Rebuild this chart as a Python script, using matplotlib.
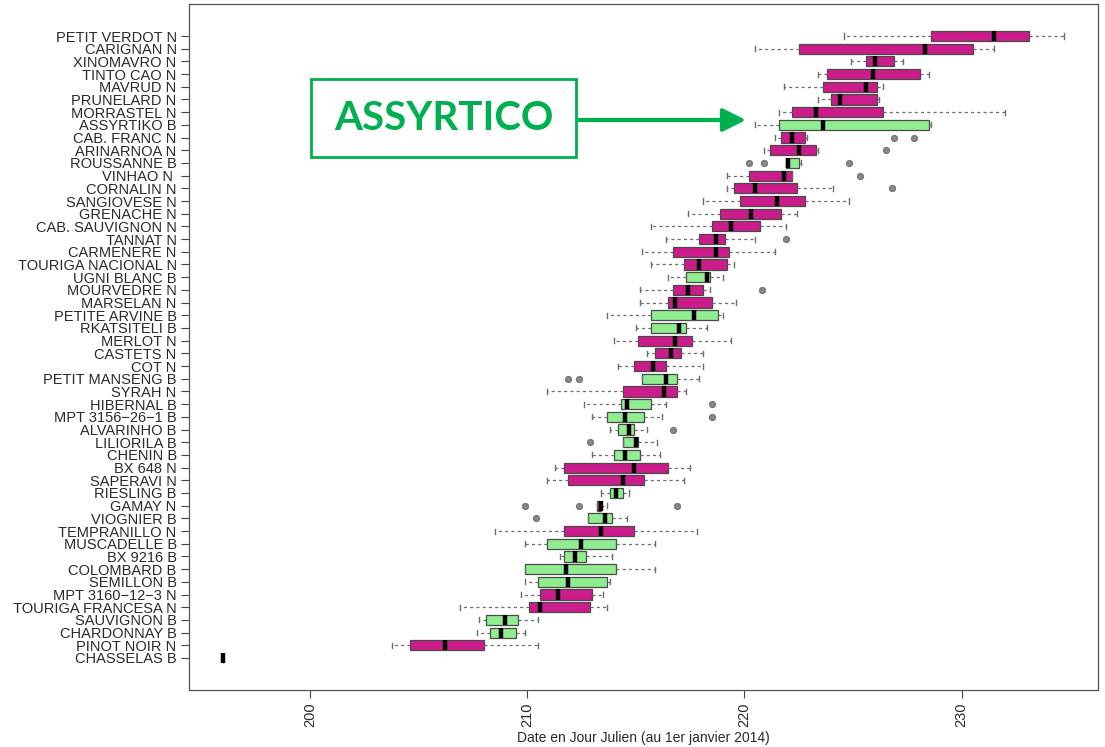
import matplotlib
matplotlib.use("Agg")
import matplotlib.pyplot as plt
from matplotlib.patches import Rectangle

varieties = [
    "PETIT VERDOT N", "CARIGNAN N", "XINOMAVRO N", "TINTO CAO N", "MAVRUD N",
    "PRUNELARD N", "MORRASTEL N", "ASSYRTIKO B", "CAB. FRANC N", "ARINARNOA N",
    "ROUSSANNE B", "VINHAO N ", "CORNALIN N", "SANGIOVESE N", "GRENACHE N",
    "CAB. SAUVIGNON N", "TANNAT N", "CARMENERE N", "TOURIGA NACIONAL N", "UGNI BLANC B",
    "MOURVEDRE N", "MARSELAN N", "PETITE ARVINE B", "RKATSITELI B", "MERLOT N",
    "CASTETS N", "COT N", "PETIT MANSENG B", "SYRAH N", "HIBERNAL B",
    "MPT 3156\u221226\u22121 B", "ALVARINHO B", "LILIORILA B", "CHENIN B", "BX 648 N",
    "SAPERAVI N", "RIESLING B", "GAMAY N", "VIOGNIER B", "TEMPRANILLO N",
    "MUSCADELLE B", "BX 9216 B", "COLOMBARD B", "SEMILLON B", "MPT 3160\u221212\u22123 N",
    "TOURIGA FRANCESA N", "SAUVIGNON B", "CHARDONNAY B", "PINOT NOIR N", "CHASSELAS B",
]

whisker_low = [224.6, 220.5, 224.9, 223.4, 221.8, 223.4, 221.6, 220.5, 221.4, 220.9,
               221.9, 219.2, 219.2, 218.1, 217.4, 215.7, 216.4, 215.3, 215.7, 216.5,
               215.2, 215.2, 213.7, 215.0, 214.0, 215.5, 214.2, 215.3, 210.9, 212.6,
               213.0, 213.8, 214.4, 213.0, 211.3, 210.9, 213.4, 213.2, 212.8, 208.5,
               209.9, 211.5, 209.9, 209.9, 209.7, 206.9, 207.8, 207.7, 203.8, 196.0]
q1 = [228.6, 222.5, 225.6, 223.8, 223.6, 224.0, 222.2, 221.6, 221.7, 221.2,
      221.9, 220.2, 219.5, 219.8, 218.9, 218.5, 217.9, 216.7, 217.2, 217.3,
      216.7, 216.5, 215.7, 215.7, 215.1, 215.9, 214.9, 215.3, 214.4, 214.3,
      213.7, 214.2, 214.4, 214.0, 211.7, 211.9, 213.8, 213.2, 212.8, 211.7,
      210.9, 211.7, 209.9, 210.5, 210.6, 210.1, 208.1, 208.3, 204.6, 196.0]
median = [231.5, 228.3, 226.0, 225.9, 225.6, 224.4, 223.3, 223.6, 222.2, 222.5,
          222.0, 221.8, 220.5, 221.5, 220.3, 219.4, 218.7, 218.7, 217.9, 218.3,
          217.4, 216.8, 217.7, 217.0, 216.8, 216.6, 215.8, 216.4, 216.3, 214.6,
          214.5, 214.7, 215.0, 214.5, 214.9, 214.4, 214.1, 213.4, 213.6, 213.4,
          212.5, 212.2, 211.8, 211.9, 211.4, 210.6, 209.0, 208.8, 206.2, 196.0]
q3 = [233.1, 230.5, 226.9, 228.1, 226.1, 226.1, 226.4, 228.5, 222.8, 223.3,
      222.5, 222.2, 222.4, 222.8, 221.7, 220.7, 219.1, 219.3, 219.2, 218.4,
      218.1, 218.5, 218.8, 217.3, 217.6, 217.1, 216.4, 216.9, 216.9, 215.7,
      215.4, 214.9, 215.1, 215.2, 216.5, 215.4, 214.4, 213.4, 213.9, 214.9,
      214.1, 212.7, 214.1, 213.7, 213.0, 212.9, 209.6, 209.5, 208.0, 196.0]
whisker_high = [234.7, 231.5, 227.3, 228.5, 226.4, 226.2, 232.0, 228.6, 222.9, 223.4,
                222.6, 222.2, 224.1, 224.8, 222.4, 221.9, 220.5, 221.4, 219.5, 219.0,
                218.4, 219.6, 219.0, 218.3, 219.4, 218.1, 218.1, 217.9, 217.3, 216.4,
                216.2, 215.5, 216.0, 216.1, 217.5, 217.2, 214.7, 213.7, 214.6, 217.8,
                215.9, 213.9, 215.9, 213.8, 213.5, 213.7, 210.5, 209.9, 210.5, 196.0]
outliers = [[], [], [], [], [], [], [], [], [226.9, 227.8], [226.5],
            [220.2, 220.9, 224.8], [225.3], [226.8], [], [], [], [221.9], [], [], [],
            [220.8], [], [], [], [], [], [], [211.9, 212.4], [], [218.5],
            [218.5], [216.7], [212.9], [], [], [], [], [209.9, 212.4, 216.9], [210.4], [],
            [], [], [], [], [], [], [], [], [], []]

x_ticks = [200, 210, 220, 230]
x_label = "Date en Jour Julien (au 1er janvier 2014)"
highlight = "ASSYRTICO"

RED = "#CC1C8C"
WHITE_GRAPE = "#90EE90"
GREEN = "#00B050"

W, H = 1105, 747
fig = plt.figure(figsize=(W / 100, H / 100), dpi=100)
ax = fig.add_axes([189.2 / W, 1 - 689.7 / H, (1097.5 - 189.2) / W, (689.7 - 4.3) / H])

positions = list(range(1, len(varieties) + 1))
stats = []
for i, name in enumerate(varieties):
    stats.append(dict(label=name, whislo=whisker_low[i], q1=q1[i], med=median[i],
                      q3=q3[i], whishi=whisker_high[i], fliers=outliers[i]))

bp = ax.bxp(stats, positions=positions, widths=0.8, orientation="horizontal",
            patch_artist=True, showfliers=True, capwidths=0.4,
            boxprops=dict(edgecolor="#4a4a4a", linewidth=0.9),
            whiskerprops=dict(color="#6e6e6e", linewidth=0.9, linestyle=(0, (2.5, 2.5))),
            capprops=dict(color="#6e6e6e", linewidth=1.0),
            medianprops=dict(color="black", linewidth=3.2, solid_capstyle="butt"),
            flierprops=dict(marker="o", markerfacecolor="#8a8a8a", markeredgecolor="#777777",
                            markersize=4.2, linestyle="none"))
for patch, name in zip(bp["boxes"], varieties):
    patch.set_facecolor(WHITE_GRAPE if name.strip().endswith("B") else RED)

ax.set_xlim(194.45, 236.25)
ax.set_ylim(52.5, -1.5)
ax.set_yticks(positions)
ax.set_yticklabels(varieties, fontsize=10.5, color="#2a2a2a", family="Liberation Sans")
ax.set_xticks(x_ticks)
ax.set_xticklabels([str(t) for t in x_ticks], rotation=90, fontsize=10.5,
                   color="#2a2a2a", family="Liberation Sans")
ax.tick_params(axis="both", direction="out", length=6, width=0.8, color="#444444", pad=3)
for s in ax.spines.values():
    s.set_color("#555555")
    s.set_linewidth(0.9)

fig.text(643 / W, 1 - 738 / H, x_label, ha="center", va="center", fontsize=10,
         color="#2a2a2a", family="Liberation Sans")

# highlight annotation
fig.add_artist(Rectangle((311 / W, 1 - 157 / H), 265 / W, 78 / H, transform=fig.transFigure,
                         facecolor="white", edgecolor=GREEN, linewidth=2, zorder=5))
fig.text(443.5 / W, 1 - 119 / H, highlight, ha="center", va="center", fontsize=29,
         fontweight="bold", color=GREEN, family="Lato", zorder=6)
ax.annotate("", xy=(746, H - 120), xytext=(577, H - 120), xycoords="figure pixels",
            textcoords="figure pixels", annotation_clip=False,
            arrowprops=dict(arrowstyle="-|>,head_length=1.4,head_width=0.7", lw=3,
                            color=GREEN, shrinkA=0, shrinkB=0))

fig.savefig("out.png", dpi=100)
